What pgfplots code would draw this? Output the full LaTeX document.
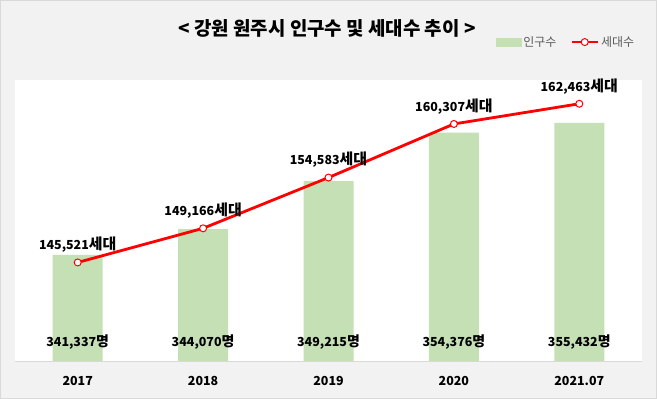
\documentclass[border=0pt]{standalone}
\usepackage{pgfplots}
\pgfplotsset{compat=1.18}
\usepackage{pgfplotstable}
\usepackage{fontspec}
\setmainfont{Noto Sans CJK KR}
\definecolor{bg}{HTML}{F2F2F2}
\definecolor{framec}{HTML}{D9D9D9}
\definecolor{bargreen}{HTML}{C5E0B4}
\definecolor{legtext}{HTML}{595959}

\pgfplotstableread{
x pop hh ypos
0 341337 145521 332000
1 344070 149166 332000
2 349215 154583 332000
3 354376 160307 332000
4 355432 162463 332000
}\datatable

\begin{document}
\begin{tikzpicture}
\path[use as bounding box] (0,0) rectangle (657bp,399bp);
\fill[bg] (0,0) rectangle (657bp,399bp);
\draw[framec, line width=1bp] (0.5bp,0.5bp) rectangle (656.5bp,398.5bp);
\fill[white] (15bp,38bp) rectangle (642bp,319bp);
\node[font=\bfseries\fontsize{19}{22}\selectfont] at (327bp,371bp) {< 강원 원주시 인구수 및 세대수 추이 >};

\begin{axis}[
  at={(15bp,38bp)}, anchor=south west, scale only axis,
  width=627bp, height=281bp,
  xmin=-0.5, xmax=4.5, ymin=330000, ymax=360000,
  axis x line*=bottom, axis y line=none,
  x axis line style={framec, line width=1bp, -},
  xtick={0,1,2,3,4}, xticklabels={2017,2018,2019,2020,2021.07},
  major tick length=0pt,
  xticklabel style={font=\bfseries\fontsize{12.5}{14}\selectfont, yshift=-12bp},
  clip=false,
  /pgf/number format/assume math mode=true,
]
\addplot[ybar, bar width=50bp, fill=bargreen, draw=none] table[x=x, y=pop] {\datatable};
\addplot[draw=none, mark=none, point meta=explicit,
  nodes near coords={\pgfmathprintnumber[fixed, precision=0, 1000 sep={,}, assume math mode=true]{\pgfplotspointmeta}{\fontsize{14}{14}\selectfont 명}},
  nodes near coords style={anchor=center, font=\bfseries\fontsize{12.5}{14}\selectfont, text=black}]
  table[x=x, y=ypos, meta=pop] {\datatable};
\end{axis}

\begin{axis}[
  at={(15bp,38bp)}, anchor=south west, scale only axis,
  width=627bp, height=281bp,
  xmin=-0.5, xmax=4.5, ymin=135000, ymax=165000,
  hide axis, clip=false,
  /pgf/number format/assume math mode=true,
  legend columns=2,
  legend style={at={(rel axis cs:0.762,1.135)}, anchor=west, draw=none, fill=none,
    font=\fontsize{12}{14}\selectfont, text=legtext,
    /tikz/every even column/.append style={column sep=12bp}},
]
\addlegendimage{legend image code/.code={\fill[bargreen] (0bp,-4bp) rectangle (25bp,4bp);}}
\addlegendentry{인구수}
\addplot[red, line width=2.8bp, mark=*, mark size=3.5bp,
  mark options={fill=white, draw=red, line width=1bp},
  point meta=explicit,
  nodes near coords={\pgfmathprintnumber[fixed, precision=0, 1000 sep={,}, assume math mode=true]{\pgfplotspointmeta}{\fontsize{15}{15}\selectfont 세대}},
  nodes near coords style={anchor=south, yshift=6bp, font=\bfseries\fontsize{12.5}{14}\selectfont, text=black},
  legend image code/.code={\draw[red, line width=2.8bp] (0bp,0bp) -- (26bp,0bp); \draw[red, fill=white, line width=1bp] (13bp,0bp) circle (3.5bp);}]
  table[x=x, y=hh, meta=hh] {\datatable};
\addlegendentry{세대수}
\end{axis}
\end{tikzpicture}
\end{document}
